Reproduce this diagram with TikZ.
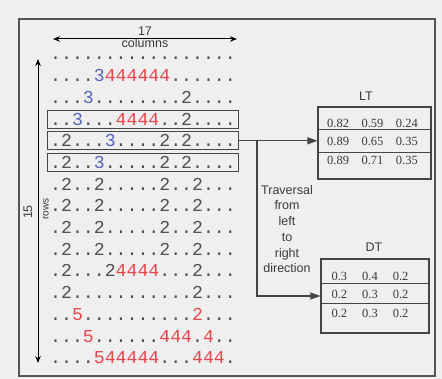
\documentclass[tikz,border=0pt]{standalone}
\usepackage{fontspec}
\setmainfont{Liberation Sans}
\newfontfamily\gridfont{Liberation Mono}
\newfontfamily\cellfont{Liberation Serif}
\usepackage{xcolor}
\usetikzlibrary{positioning}
\usetikzlibrary{arrows.meta}

\definecolor{bggray}{HTML}{EFEFEF}
\definecolor{textgray}{HTML}{3A3A3A}
\definecolor{gridgray}{HTML}{505050}
\definecolor{linegray}{HTML}{454545}
\definecolor{framegray}{HTML}{555555}
\definecolor{digitred}{HTML}{E8454B}
\definecolor{digitblue}{HTML}{5666BC}

\newcommand{\rdig}[1]{\textcolor{digitred}{#1}}
\newcommand{\bdig}[1]{\textcolor{digitblue}{#1}}

\tikzset{
  gridrow/.style={font=\gridfont\fontsize{18.2pt}{20pt}\selectfont, text=gridgray, inner xsep=3pt, inner ysep=0pt, text height=12pt, text depth=0pt},
  boxedrow/.style={gridrow, draw=linegray, line width=1.1pt, inner ysep=3pt},
  sidetext/.style={font=\fontsize{12.5pt}{15.7pt}\selectfont, text=textgray, inner sep=0pt},
  cellrow/.style={font=\cellfont\fontsize{12.5pt}{14pt}\selectfont, text=textgray, inner sep=0pt, text height=8.5pt, text depth=0pt},
  tablebox/.style={draw=linegray, line width=1.1pt, inner sep=0pt},
  dimarrow/.style={{Stealth[length=7pt,width=5.5pt]}-{Stealth[length=7pt,width=5.5pt]}, line width=1pt, draw=black},
  flowarrow/.style={-{Triangle[length=10pt,width=7pt]}, line width=1.1pt, draw=linegray}
}

\begin{document}
\begin{tikzpicture}[x=1pt, y=-1pt, node distance=21.7pt]
            \fill[bggray] (0,0) rectangle (442,379);
            \useasboundingbox (0,0) rectangle (442,379);
            \draw[framegray, line width=1.1pt] (19,19) rectangle (435,376);

            \node[gridrow] (row_1) at (143,54) {.................};
            \node[gridrow] (row_2) [below of=row_1] {....\bdig{3}\rdig{444444}......};
            \node[gridrow] (row_3) [below of=row_2] {...\bdig{3}........2....};
            \node[boxedrow] (row_4) [below of=row_3] {..\bdig{3}...\rdig{4444}..2....};
            \node[boxedrow] (row_5) [below of=row_4] {.2...\bdig{3}....2.2....};
            \node[boxedrow] (row_6) [below of=row_5] {.2..\bdig{3}.....2.2....};
            \node[gridrow] (row_7) [below of=row_6] {.2..2.....2..2...};
            \node[gridrow] (row_8) [below of=row_7] {.2..2.....2..2...};
            \node[gridrow] (row_9) [below of=row_8] {.2..2.....2..2...};
            \node[gridrow] (row_10) [below of=row_9] {.2..2.....2..2...};
            \node[gridrow] (row_11) [below of=row_10] {.2...2\rdig{4444}...2...};
            \node[gridrow] (row_12) [below of=row_11] {.2...........2...};
            \node[gridrow] (row_13) [below of=row_12] {..\rdig{5}..........\rdig{2}...};
            \node[gridrow] (row_14) [below of=row_13] {...\rdig{5}......\rdig{444}.\rdig{4}..};
            \node[gridrow] (row_15) [below of=row_14] {....\rdig{544444}...\rdig{444}.};

            \coordinate (col_left) at (53,39);
            \coordinate (col_right) at (237,39);
            \draw[dimarrow] (col_left) -- (col_right);
            \node[sidetext] (col_count) at (145,31) {17};
            \node[sidetext] (col_name) at (145,43) {columns};

            \coordinate (row_top) at (38,59);
            \coordinate (row_bottom) at (38,363);
            \draw[dimarrow] (row_top) -- (row_bottom);
            \node[sidetext, rotate=90] (row_count) at (28,212) {15};
            \node[sidetext, rotate=90, font=\fontsize{10pt}{12pt}\selectfont] (row_name) at (46,209) {rows};

            \node[tablebox, minimum width=113pt, minimum height=72pt] (lt_table) at (374.5,143) {};
            \node[sidetext] (lt_title) at (366,96) {LT};
            \draw[linegray, line width=1.1pt] ([yshift=-23pt]lt_table.north west) -- ([yshift=-23pt]lt_table.north east);
            \draw[linegray, line width=1.1pt] ([yshift=-46pt]lt_table.north west) -- ([yshift=-46pt]lt_table.north east);
            \node[cellrow] (lt_row_1) at (372.5,123) {0.82\quad 0.59\quad 0.24};
            \node[cellrow, node distance=18.5pt] (lt_row_2) [below of=lt_row_1] {0.89\quad 0.65\quad 0.35};
            \node[cellrow, node distance=18.5pt] (lt_row_3) [below of=lt_row_2] {0.89\quad 0.71\quad 0.35};

            \node[tablebox, minimum width=108pt, minimum height=74pt] (dt_table) at (375,296) {};
            \node[sidetext] (dt_title) at (374,247) {DT};
            \draw[linegray, line width=1.1pt] ([yshift=-25pt]dt_table.north west) -- ([yshift=-25pt]dt_table.north east);
            \draw[linegray, line width=1.1pt] ([yshift=-45pt]dt_table.north west) -- ([yshift=-45pt]dt_table.north east);
            \node[cellrow] (dt_row_1) at (370,276) {0.3\hspace{15pt}0.4\hspace{15pt}0.2};
            \node[cellrow, node distance=18.5pt] (dt_row_2) [below of=dt_row_1] {0.2\hspace{15pt}0.3\hspace{15pt}0.2};
            \node[cellrow, node distance=18.5pt] (dt_row_3) [below of=dt_row_2] {0.2\hspace{15pt}0.3\hspace{15pt}0.2};

            \node[sidetext, align=center] (traversal_note) at (287,229) {Traversal\\from\\left\\to\\right\\direction};

            \draw[flowarrow] (row_5.east) -- (row_5.east -| lt_table.west);
            \coordinate (split) at (257,0 |- row_5.east);
            \draw[flowarrow] (split) |- (dt_table.west);
        \end{tikzpicture}
\end{document}
